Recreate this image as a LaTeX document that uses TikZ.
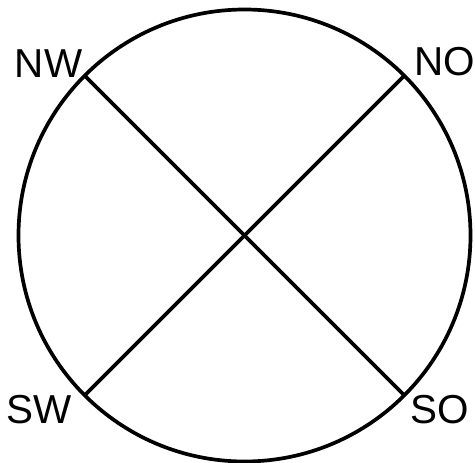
\documentclass[tikz,border=0pt]{standalone}
\usepackage{fontspec}
\setmainfont{Liberation Sans}
\usepackage{tikz}
\usetikzlibrary{positioning}

\begin{document}
\begin{tikzpicture}[line width=2.1pt,
  lbl/.style={anchor=base, inner sep=0pt, font=\fontsize{23}{23}\selectfont}]
  \useasboundingbox (-4.89,-4.53) rectangle (4.61,4.71);

  \node (ring) [circle, draw, minimum size=9.04cm, inner sep=0pt, outer sep=0pt] at (0,0) {};

  \node (nw) [lbl] at (-3.92,3.15) {NW};
  \node (no) [lbl] at (4.01,3.19) {NO};
  \node (sw) [lbl] at (-4.10,-3.75) {SW};
  \node (so) [lbl] at (3.91,-3.75) {SO};

  \draw (ring.north west) -- (ring.south east);
  \draw (ring.south west) -- (ring.north east);
\end{tikzpicture}
\end{document}
